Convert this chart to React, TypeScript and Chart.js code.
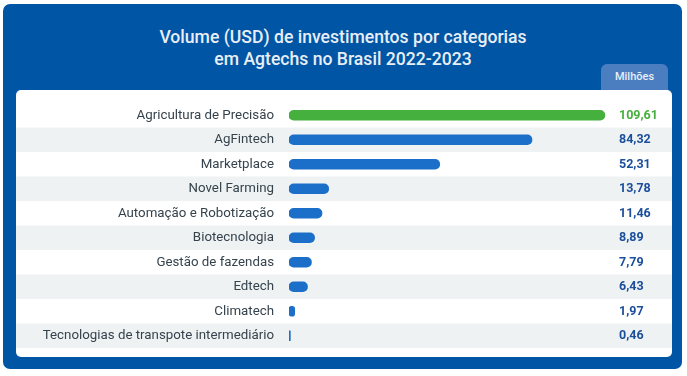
import React, { useEffect, useRef } from "react";
import { Chart, registerables } from "chart.js";

Chart.register(...registerables);

const titleLines = ["Volume (USD) de investimentos por categorias", "em Agtechs no Brasil 2022-2023"];
const unitLabel = "Milhões";
const categories = [
  "Agricultura de Precisão",
  "AgFintech",
  "Marketplace",
  "Novel Farming",
  "Automação e Robotização",
  "Biotecnologia",
  "Gestão de fazendas",
  "Edtech",
  "Climatech",
  "Tecnologias de transpote intermediário",
];
const values = [109.61, 84.32, 52.31, 13.78, 11.46, 8.89, 7.79, 6.43, 1.97, 0.46];

const GREEN = "#45B03D";
const BLUE = "#1C6FC8";
const VALUE_BLUE = "#1B4E9B";
const FONT = "Roboto, 'Noto Sans', sans-serif";

export default function App() {
  const ref = useRef<HTMLCanvasElement | null>(null);

  useEffect(() => {
    if (!ref.current) return;
    const stripes = {
      id: "stripes",
      beforeDraw(chart: any) {
        const { ctx, chartArea, scales } = chart;
        const y = scales.y;
        const n = categories.length;
        const h = (chartArea.bottom - chartArea.top) / n;
        ctx.save();
        ctx.fillStyle = "#EEF2F3";
        for (let i = 1; i < n; i += 2) {
          const c = y.getPixelForValue(i);
          ctx.fillRect(0, c - h / 2, chart.width, h);
        }
        ctx.restore();
      },
    };
    const valueLabels = {
      id: "valueLabels",
      afterDatasetsDraw(chart: any) {
        const { ctx, chartArea, scales } = chart;
        ctx.save();
        ctx.font = `bold 12.5px ${FONT}`;
        ctx.textAlign = "left";
        ctx.textBaseline = "middle";
        values.forEach((v, i) => {
          ctx.fillStyle = i === 0 ? GREEN : VALUE_BLUE;
          ctx.fillText(v.toFixed(2).replace(".", ","), chartArea.right, scales.y.getPixelForValue(i) + 0.5);
        });
        ctx.restore();
      },
    };
    const chart = new Chart(ref.current, {
      type: "bar",
      data: {
        labels: categories,
        datasets: [
          {
            data: values,
            backgroundColor: values.map((_, i) => (i === 0 ? GREEN : BLUE)),
            barThickness: 10,
            borderRadius: 5,
            borderSkipped: false,
          },
        ],
      },
      options: {
        indexAxis: "y",
        responsive: false,
        animation: false,
        devicePixelRatio: 1,
        layout: { padding: { top: 13, bottom: 9, right: 53, left: 0 } },
        plugins: { legend: { display: false }, tooltip: { enabled: false } },
        scales: {
          x: { display: false, min: 0, max: 114.5 },
          y: {
            grid: { display: true, drawOnChartArea: false, drawTicks: true, tickLength: 15, color: "rgba(0,0,0,0)" },
            border: { display: false },
            ticks: { color: "#36434D", font: { family: FONT, size: 13.3 }, padding: 0 },
            afterFit: (s: any) => {
              s.width = 273;
            },
          },
        },
      },
      plugins: [stripes, valueLabels],
    } as any);
    return () => chart.destroy();
  }, []);

  return (
    <div style={{ position: "fixed", left: 0, top: 0, width: 687, height: 376, background: "#fff", fontFamily: FONT }}>
      <div style={{ position: "absolute", left: 3, top: 4, width: 679, height: 365, background: "#0055A5", borderRadius: 7 }} />
      <div
        style={{
          position: "absolute",
          left: 3,
          top: 26,
          width: 680,
          textAlign: "center",
          color: "#E8EEF5",
          fontSize: 17.6,
          lineHeight: "22px",
          fontWeight: 500,
        }}
      >
        {titleLines.map((t, i) => (
          <div key={i}>{t}</div>
        ))}
      </div>
      <div
        style={{
          position: "absolute",
          left: 601,
          top: 64,
          width: 67,
          height: 30,
          background: "#4B7EC1",
          borderRadius: "6px 6px 0 0",
          color: "#E8EEF6",
          fontSize: 11,
          lineHeight: "26px",
          textAlign: "center",
          fontWeight: 500,
        }}
      >
        {unitLabel}
      </div>
      <div style={{ position: "absolute", left: 16, top: 90, width: 656, height: 267, background: "#fff", borderRadius: 5, overflow: "hidden" }}>
        <canvas ref={ref} width={656} height={267} style={{ display: "block" }} />
      </div>
    </div>
  );
}
